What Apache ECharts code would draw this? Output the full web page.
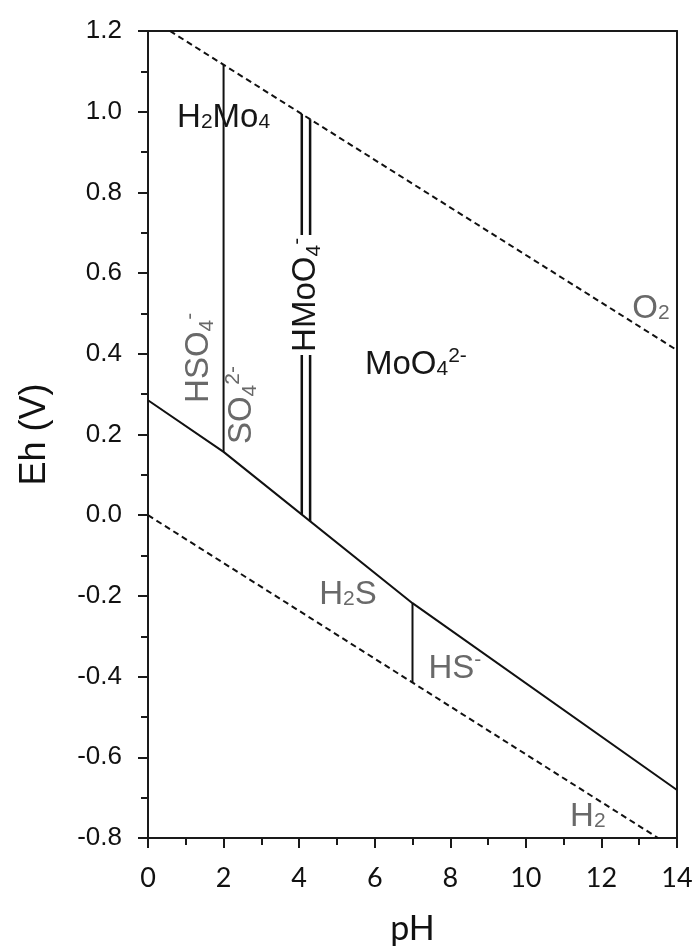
<!DOCTYPE html>
<html>
<head>
<meta charset="utf-8">
<script src="https://cdn.jsdelivr.net/npm/echarts@6/dist/echarts.min.js"></script>
<style>
  html, body { margin: 0; padding: 0; background: #ffffff; }
  #chart { width: 694px; height: 947px; }
</style>
</head>
<body>
<div id="chart"></div>
<script>
// Eh–pH stability fields of molybdenum and sulfur species in water

// Upper stability limit of water (O2 / H2O)
const o2PH = [0.58, 14];
const o2Eh = [1.2, 0.409];

// Lower stability limit of water (H2O / H2)
const h2PH = [0, 13.5];
const h2Eh = [0, -0.8];

// Sulfate / sulfide reduction boundary
const redoxPH = [0, 2, 7, 14];
const redoxEh = [0.285, 0.157, -0.218, -0.681];

// HSO4- / SO4 2- boundary
const sulfatePH = [2, 2];
const sulfateEh = [0.157, 1.116];

// H2MoO4 / HMoO4- boundary
const acidMoPH = [4.07, 4.07];
const acidMoEh = [0.002, 0.994];

// HMoO4- / MoO4 2- boundary
const ionMoPH = [4.29, 4.29];
const ionMoEh = [-0.015, 0.981];

// H2S / HS- boundary
const sulfidePH = [7, 7];
const sulfideEh = [-0.218, -0.414];

// Axis ticks
const phTicks = [0, 2, 4, 6, 8, 10, 12, 14];
const ehTicks = [-0.8, -0.6, -0.4, -0.2, 0.0, 0.2, 0.4, 0.6, 0.8, 1.0, 1.2];

// Species names: {n|} normal, {b|} small digit on baseline, {s|} subscript, {p|} superscript
const speciesText = [
  '{n|H}{b|2}{n|Mo}{b|4}',
  '{n|HMoO}{s|4}{p|-}',
  '{n|MoO}{b|4}{p|2-}',
  '{n|HSO}{s|4}{p|-}',
  '{n|SO}{s|4}{p|2-}',
  '{n|O}{b|2}',
  '{n|H}{b|2}{n|S}',
  '{n|HS}{p|-}',
  '{n|H}{b|2}'
];
const speciesPH = [2.0, 4.18, 7.09, 1.35, 2.49, 13.31, 5.29, 8.12, 11.64];
const speciesEh = [0.984, 0.546, 0.372, 0.39, 0.273, 0.511, -0.198, -0.381, -0.748];
const speciesTone = ['dark', 'dark', 'dark', 'grey', 'grey', 'grey', 'grey', 'grey', 'grey'];
const speciesTurn = [0, 90, 0, 90, 90, 0, 0, 0, 0];
const speciesBoxed = [false, true, false, false, false, false, false, false, false];

const pairs = (xs, ys) => xs.map((x, i) => [x, ys[i]]);

const FONT = '"Liberation Sans", Arial, sans-serif';
const toneColor = { dark: '#161616', grey: '#696969' };
const AXIS_COLOR = '#1a1a1a';

function richFor(color) {
  const base = { fontFamily: FONT, color: color, textBorderWidth: 0 };
  return {
    n: Object.assign({ fontSize: 33, lineHeight: 40 }, base),
    b: Object.assign({ fontSize: 21, verticalAlign: 'bottom', padding: [0, 0, 5, 0] }, base),
    s: Object.assign({ fontSize: 21, verticalAlign: 'bottom', padding: [0, 0, 1, 0] }, base),
    p: Object.assign({ fontSize: 21, verticalAlign: 'top', padding: [1, 0, 0, 0] }, base)
  };
}

function boundary(name, xs, ys, style) {
  return {
    name: name,
    type: 'line',
    data: pairs(xs, ys),
    showSymbol: false,
    symbol: 'none',
    silent: true,
    clip: true,
    z: 3,
    lineStyle: Object.assign({ color: '#111111', width: 2 }, style || {})
  };
}

const labelItems = speciesText.map((t, i) => ({
  value: [speciesPH[i], speciesEh[i]],
  label: {
    show: true,
    position: 'inside',
    formatter: t,
    rotate: speciesTurn[i],
    align: 'center',
    verticalAlign: 'middle',
    color: toneColor[speciesTone[i]],
    textBorderWidth: 0,
    textBorderColor: 'transparent',
    opacity: 1,
    rich: richFor(toneColor[speciesTone[i]]),
    backgroundColor: speciesBoxed[i] ? '#ffffff' : 'transparent',
    padding: speciesBoxed[i] ? [0, 3] : 0
  }
}));

// Plain frame lines for the top and right edges of the plot box
const frameAxis = {
  type: 'value',
  axisLine: { show: true, onZero: false, lineStyle: { color: AXIS_COLOR, width: 2 } },
  axisTick: { show: false },
  axisLabel: { show: false },
  splitLine: { show: false }
};

const chart = echarts.init(document.getElementById('chart'), null, { renderer: 'canvas' });

chart.setOption({
  animation: false,
  backgroundColor: '#ffffff',
  grid: {
    left: 148, right: 17, top: 31, bottom: 109,
    show: false, containLabel: false, outerBoundsMode: 'none'
  },
  xAxis: [
    {
      type: 'value',
      min: phTicks[0], max: phTicks[phTicks.length - 1], interval: 2,
      position: 'bottom',
      name: 'pH',
      nameLocation: 'middle',
      nameGap: 74,
      nameTextStyle: { fontFamily: 'Lato, "Open Sans", sans-serif', fontSize: 34, color: '#111111' },
      axisLine: { show: true, onZero: false, lineStyle: { color: AXIS_COLOR, width: 2 } },
      axisTick: { show: true, inside: false, length: 10, lineStyle: { color: AXIS_COLOR, width: 2 } },
      minorTick: { show: true, splitNumber: 2, length: 7, lineStyle: { color: AXIS_COLOR, width: 2 } },
      splitLine: { show: false },
      axisLabel: {
        margin: 27,
        fontFamily: 'Lato, "Open Sans", sans-serif', fontSize: 27, color: '#111111',
        formatter: v => String(v)
      }
    },
    Object.assign({ position: 'top', min: phTicks[0], max: phTicks[phTicks.length - 1] }, frameAxis)
  ],
  yAxis: [
    {
      type: 'value',
      min: ehTicks[0], max: ehTicks[ehTicks.length - 1], interval: 0.2,
      position: 'left',
      name: 'Eh (V)',
      nameLocation: 'middle',
      nameGap: 95,
      nameTextStyle: { fontFamily: FONT, fontSize: 36, color: '#111111' },
      axisLine: { show: true, onZero: false, lineStyle: { color: AXIS_COLOR, width: 2 } },
      axisTick: { show: true, inside: false, length: 10, lineStyle: { color: AXIS_COLOR, width: 2 } },
      minorTick: { show: true, splitNumber: 2, length: 7, lineStyle: { color: AXIS_COLOR, width: 2 } },
      splitLine: { show: false },
      axisLabel: {
        margin: 26,
        fontFamily: FONT, fontSize: 26, color: '#111111',
        formatter: v => v.toFixed(1)
      }
    },
    Object.assign({ position: 'right', min: ehTicks[0], max: ehTicks[ehTicks.length - 1] }, frameAxis)
  ],
  series: [
    boundary('O2', o2PH, o2Eh, { type: [6, 4], width: 2 }),
    boundary('H2', h2PH, h2Eh, { type: [6, 4], width: 2 }),
    boundary('redox', redoxPH, redoxEh),
    boundary('sulfate', sulfatePH, sulfateEh),
    boundary('acidMo', acidMoPH, acidMoEh, { width: 2.5 }),
    boundary('ionMo', ionMoPH, ionMoEh, { width: 2.5 }),
    boundary('sulfide', sulfidePH, sulfideEh),
    {
      name: 'species',
      type: 'scatter',
      data: labelItems,
      symbolSize: 0,
      silent: true,
      z: 10,
      emphasis: { disabled: true }
    }
  ]
});
</script>
</body>
</html>
